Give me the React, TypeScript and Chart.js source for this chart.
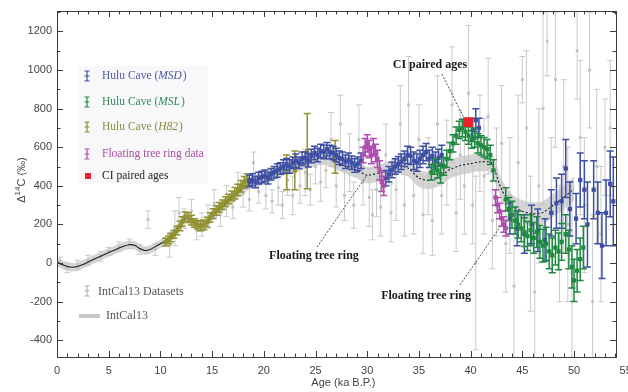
import React, { useEffect, useRef } from 'react';
import { Chart, registerables } from 'chart.js';
Chart.register(...registerables);

// ---------- axes ----------
const X_MIN = 0;
const X_MAX = 54.06;
const Y_MIN = -487;
const Y_MAX = 1306;
const xTickLabels = [0, 5, 10, 15, 20, 25, 30, 35, 40, 45, 50, 55];
const yTickLabels = [-400, -200, 0, 200, 400, 600, 800, 1000, 1200];

// ---------- IntCal13 curve ----------
const curveAge = [0, 0.5, 1, 1.5, 2, 2.5, 3, 3.5, 4, 4.5, 5, 5.5, 6, 6.5, 7, 7.5, 8, 8.5, 9, 9.5,
  10, 10.5, 11, 11.5, 12, 12.5, 13, 13.5, 14, 14.5, 15, 15.5, 16, 16.5, 17, 17.5, 18, 18.5, 19, 20,
  21, 22, 23, 24, 25, 26, 27, 28, 29, 30, 31, 32, 33, 34, 35, 36, 37, 38, 39, 40,
  41, 42, 43, 44, 45, 46, 47, 48, 49, 50];
const curveVal = [5, -8, -18, -22, -18, -8, 5, 18, 30, 42, 55, 65, 78, 88, 95, 92, 75, 65, 70, 85,
  100, 115, 140, 170, 200, 238, 218, 195, 188, 210, 245, 270, 295, 318, 340, 362, 390, 410, 420, 440,
  465, 490, 505, 525, 540, 548, 525, 500, 480, 455, 465, 480, 505, 490, 440, 428, 445, 485, 505, 515,
  525, 520, 380, 300, 268, 255, 262, 300, 340, 385];
const curveErr = [22, 22, 22, 22, 22, 22, 22, 22, 22, 22, 22, 22, 22, 22, 22, 22, 22, 22, 22, 22,
  22, 24, 25, 26, 28, 28, 28, 28, 28, 28, 28, 30, 30, 30, 30, 30, 30, 32, 32, 35,
  35, 35, 38, 38, 38, 40, 40, 40, 42, 42, 45, 45, 45, 45, 45, 45, 45, 48, 48, 48,
  50, 50, 55, 55, 58, 60, 60, 60, 62, 62];

// ---------- IntCal13 datasets (gray) ----------
const grayAge = [0.3, 1.0, 2.0, 3.0, 4.2, 5.0, 6.0, 7.0, 8.0, 8.8,
  9.5, 10.9, 11.4, 11.8, 12.3, 13.0, 13.5, 14.0, 14.6, 15.2,
  15.8, 16.4, 17.0, 17.5, 18.0, 18.6, 19.0, 19.5, 20.2, 20.8,
  21.4, 21.8, 22.3, 22.8, 23.5, 24.0, 24.5, 25.0, 25.5, 26.0,
  26.5, 27.0, 27.4, 27.8, 28.3, 28.7, 29.2, 29.6, 30.2, 30.5,
  30.9, 31.3, 31.8, 32.3, 32.8, 33.2, 33.6, 34.0, 34.5, 35.0,
  35.4, 35.9, 36.3, 36.8, 37.2, 37.7, 38.2, 38.6, 39.0, 39.4,
  39.8, 40.2, 40.5, 40.9, 41.3, 41.7, 42.1, 42.5, 43.0, 43.4,
  43.8, 44.2, 44.6, 45.0, 45.4, 45.8, 46.2, 46.6, 47.0, 47.4,
  47.8, 48.2, 48.6, 49.0, 49.4, 49.8, 50.3, 50.6, 51.0, 51.5,
  51.8, 52.2, 52.6, 53.0, 53.5];
const grayVal = [10, -25, -10, 15, 35, 60, 85, 100, 70, 225,
  70, 90, 180, 260, 230, 270, 170, 200, 240, 310,
  250, 320, 290, 410, 360, 330, 520, 370, 350, 320,
  390, 300, 430, 350, 400, 470, 380, 500, 420, 480,
  640, 400, 720, 350, 520, 300, 640, 420, 340, 250,
  380, 290, 560, 260, 380, 720, 300, 820, 350, 640,
  250, 450, 220, 720, 350, 520, 820, 260, 560, 400,
  880, 300, 0, 620, 450, 760, 220, 420, 620, 100,
  350, -120, 520, 950, 700, 100, -150, 400, 800, 1150,
  300, 950, 100, 500, 200, -50, 1100, 650, 300, 1000,
  -200, 500, 150, 600, 700];
const grayErr = [20, 25, 25, 25, 25, 20, 25, 25, 25, 45,
  30, 60, 90, 80, 50, 60, 50, 60, 60, 70,
  60, 80, 60, 60, 70, 60, 55, 60, 70, 60,
  90, 70, 80, 100, 90, 120, 80, 90, 100, 90,
  140, 110, 150, 130, 150, 120, 180, 120, 150, 130,
  140, 150, 160, 150, 160, 200, 160, 250, 200, 180,
  200, 200, 180, 250, 200, 220, 300, 200, 230, 250,
  350, 200, 450, 250, 300, 300, 250, 280, 300, 250,
  300, 400, 350, 120, 400, 350, 350, 400, 500, 180,
  350, 350, 300, 450, 400, 450, 250, 400, 350, 300,
  450, 400, 350, 250, 350];

// ---------- Hulu Cave (H82) ----------
const h82Age = [10.5, 10.8, 11.0, 11.3, 11.6, 11.9, 12.1, 12.4, 12.7, 13.0,
  13.3, 13.6, 13.9, 14.2, 14.5, 14.8, 15.1, 15.4, 15.7, 16.0,
  16.3, 16.6, 16.9, 17.2, 17.5, 17.8, 18.1, 18.4,
  22.2, 23.0, 24.2, 26.9];
const h82Val = [108, 120, 132, 148, 168, 192, 215, 240, 235, 222,
  208, 198, 192, 198, 212, 236, 256, 272, 288, 302,
  318, 332, 348, 362, 378, 398, 418, 432,
  470, 480, 580, 550];
const h82Err = [20, 20, 22, 20, 22, 25, 25, 25, 25, 25,
  22, 22, 25, 25, 25, 25, 25, 25, 25, 25,
  25, 25, 25, 30, 30, 30, 30, 30,
  90, 100, 195, 85];

// ---------- Hulu Cave (MSD) ----------
const msdAge = [18.6, 18.9, 19.2, 19.5, 19.8, 20.1, 20.4, 20.7, 21.0, 21.3,
  21.6, 21.9, 22.2, 22.5, 22.8, 23.1, 23.4, 23.7, 24.0, 24.3,
  24.6, 24.9, 25.2, 25.5, 25.8, 26.1, 26.4, 26.7, 27.0, 27.3,
  27.6, 27.9, 28.2, 28.5, 28.8, 29.1, 29.4, 31.8, 32.1, 32.4,
  32.7, 33.0, 33.3, 33.6, 33.9, 34.2, 34.5, 34.8, 35.1, 35.4,
  35.7, 36.0, 36.3, 36.6, 36.9, 37.2, 40.2, 40.5, 40.8,
  43.8, 44.5, 45.2, 45.9, 46.5, 47.2, 47.8, 48.3, 48.8, 49.2,
  49.6, 50.2, 50.6, 51.0, 51.3, 51.9, 52.3, 52.7, 53.1, 53.5, 53.8];
const msdVal = [425, 432, 420, 440, 446, 452, 440, 460, 470, 480,
  490, 500, 512, 500, 520, 530, 520, 540, 545, 532,
  555, 570, 560, 580, 575, 590, 575, 570, 560, 545,
  540, 525, 535, 520, 505, 515, 530, 440, 460, 482,
  500, 512, 525, 540, 560, 555, 530, 520, 540, 560,
  575, 540, 555, 530, 545, 560, 690, 740, 700,
  230, 180, 150, 200, 170, 120, 260, 310, 320, 490,
  280, 230, 430, 380, 200, 380, 260, 90, 260, 410, 320];
const msdErr = [30, 30, 30, 30, 30, 30, 30, 30, 30, 35,
  30, 35, 30, 35, 30, 35, 30, 35, 30, 35,
  35, 35, 35, 35, 35, 35, 35, 35, 35, 35,
  35, 35, 35, 35, 35, 35, 40, 40, 40, 40,
  40, 40, 40, 40, 45, 45, 45, 45, 45, 45,
  45, 45, 45, 45, 45, 50, 60, 60, 50,
  80, 90, 100, 100, 110, 110, 120, 130, 140, 150,
  140, 130, 140, 150, 220, 150, 160, 170, 170, 170, 230];

// ---------- Hulu Cave (MSL) ----------
const mslAge = [36.2, 36.5, 36.8, 37.1, 37.4, 37.7, 38.0, 38.3, 38.6, 38.9,
  39.2, 39.5, 39.8, 40.1, 40.4, 40.7, 41.0, 41.3, 41.6, 41.9,
  42.2, 43.4, 43.7, 44.0, 44.3, 44.6, 44.9, 45.2, 45.5, 45.8,
  46.1, 46.4, 46.7, 47.0, 47.3, 47.6, 47.9, 48.2, 48.5, 48.8,
  49.2, 49.5, 49.8, 50.0, 50.3, 50.6, 50.9];
const mslVal = [470, 500, 480, 460, 500, 540, 580, 620, 660, 690,
  700, 680, 660, 640, 650, 620, 610, 600, 590, 560,
  480, 330, 280, 250, 220, 200, 180, 160, 140, 170,
  130, 160, 110, 90, 100, 60, 40, 80, 60, 110,
  150, 70, -20, -90, -40, 20, 80];
const mslErr = [40, 40, 40, 45, 45, 45, 45, 45, 45, 45,
  45, 45, 45, 45, 50, 50, 50, 50, 50, 50,
  55, 60, 60, 70, 70, 70, 70, 75, 75, 80,
  80, 80, 85, 85, 85, 90, 90, 90, 95, 95,
  100, 100, 110, 110, 110, 110, 110];

// ---------- Floating tree ring data ----------
const treeAge = [29.6, 29.8, 30.0, 30.2, 30.4, 30.6, 30.8, 31.0, 31.2, 31.4, 31.6,
  42.4, 42.6, 42.8, 43.0, 43.2, 43.4];
const treeVal = [560, 600, 620, 590, 560, 600, 570, 540, 480, 420, 400,
  340, 300, 270, 230, 200, 180];
const treeErr = [40, 45, 45, 45, 45, 45, 45, 45, 50, 50, 50,
  40, 40, 40, 40, 40, 40];

// ---------- CI paired ages ----------
const ciAge = [39.75];
const ciVal = [730];

// ---------- text ----------
const legendItems = [
  { pre: 'Hulu Cave (', it: 'MSD', post: ')', color: '#3d4fa5', text: '#4e5ca8', kind: 'bar' },
  { pre: 'Hulu Cave (', it: 'MSL', post: ')', color: '#1e8a40', text: '#2f8c55', kind: 'bar' },
  { pre: 'Hulu Cave (', it: 'H82', post: ')', color: '#8f8f2a', text: '#8c8a40', kind: 'bar' },
  { pre: 'Floating tree ring data', it: '', post: '', color: '#b04cb0', text: '#a9509f', kind: 'bar' },
  { pre: 'CI paired ages', it: '', post: '', color: '#e8232a', text: '#222222', kind: 'square' },
];

const SERIF = '"Liberation Serif", "DejaVu Serif", "Times New Roman", serif';
const SANS = '"Liberation Sans", Arial, "DejaVu Sans", sans-serif';

const pts = (a: number[], v: number[]) => a.map((x, i) => ({ x, y: v[i] }));

const errorBarPlugin = {
  id: 'errorBars',
  beforeDatasetDraw(chart: any, args: any) {
    const ds = chart.data.datasets[args.index];
    if (!ds.errY) return;
    const { ctx, chartArea: ca } = chart;
    const xs = chart.scales.x, ys = chart.scales.y;
    ctx.save();
    ctx.beginPath();
    ctx.rect(ca.left, ca.top, ca.right - ca.left, ca.bottom - ca.top);
    ctx.clip();
    ctx.strokeStyle = ds.errColor;
    ctx.lineWidth = ds.errWidth;
    const cap = ds.capW;
    ds.data.forEach((p: any, i: number) => {
      const e = ds.errY[i];
      const px = xs.getPixelForValue(p.x);
      const py = ys.getPixelForValue(p.y);
      const y1 = ys.getPixelForValue(p.y + e);
      const y2 = ys.getPixelForValue(p.y - e);
      ctx.beginPath();
      ctx.moveTo(px, y1); ctx.lineTo(px, y2);
      ctx.moveTo(px - cap, y1); ctx.lineTo(px + cap, y1);
      ctx.moveTo(px - cap, y2); ctx.lineTo(px + cap, y2);
      if (ds.errX) {
        const xa = xs.getPixelForValue(p.x - ds.errX);
        const xb = xs.getPixelForValue(p.x + ds.errX);
        ctx.moveTo(xa, py); ctx.lineTo(xb, py);
      }
      ctx.stroke();
    });
    ctx.restore();
  },
};

function drawErrGlyph(ctx: any, x: number, y: number, color: string, h: number, w: number, lw: number) {
  ctx.save();
  ctx.strokeStyle = color;
  ctx.lineWidth = lw;
  ctx.beginPath();
  ctx.moveTo(x, y - h); ctx.lineTo(x, y + h);
  ctx.moveTo(x - w, y - h); ctx.lineTo(x + w, y - h);
  ctx.moveTo(x - w, y + h); ctx.lineTo(x + w, y + h);
  ctx.moveTo(x - w, y); ctx.lineTo(x + w, y);
  ctx.stroke();
  ctx.restore();
}

const framePlugin = {
  id: 'frame',
  beforeDatasetsDraw(chart: any) {
    const { ctx } = chart;
    ctx.save();
    ctx.fillStyle = 'rgba(242,242,246,0.5)';
    ctx.fillRect(78, 66, 130, 118);
    ctx.restore();
  },
  afterDraw(chart: any) {
    const { ctx, chartArea: ca } = chart;
    const xs = chart.scales.x, ys = chart.scales.y;
    ctx.save();
    // frame
    ctx.strokeStyle = '#3a3a3a';
    ctx.lineWidth = 1;
    ctx.strokeRect(Math.round(ca.left) + 0.5, Math.round(ca.top) + 0.5,
      Math.round(ca.right - ca.left), Math.round(ca.bottom - ca.top));
    // x ticks
    ctx.beginPath();
    for (let v = 1; v < X_MAX; v += 1) {
      const px = Math.round(xs.getPixelForValue(v)) + 0.5;
      const len = v % 5 === 0 ? 6 : 3.5;
      ctx.moveTo(px, ca.bottom); ctx.lineTo(px, ca.bottom - len);
      ctx.moveTo(px, ca.top); ctx.lineTo(px, ca.top + len);
    }
    for (let v = -400; v <= 1300; v += 100) {
      const py = Math.round(ys.getPixelForValue(v)) + 0.5;
      const len = v % 200 === 0 ? 6 : 3.5;
      ctx.moveTo(ca.left, py); ctx.lineTo(ca.left + len, py);
      ctx.moveTo(ca.right, py); ctx.lineTo(ca.right - len, py);
    }
    ctx.stroke();
    // tick labels
    ctx.fillStyle = '#444';
    ctx.font = `11px ${SANS}`;
    ctx.textAlign = 'center';
    ctx.textBaseline = 'top';
    xTickLabels.forEach((v) => {
      ctx.fillText(String(v), xs.getPixelForValue(v), ca.bottom + 8);
    });
    ctx.textAlign = 'right';
    ctx.textBaseline = 'middle';
    yTickLabels.forEach((v) => {
      ctx.fillText(String(v), ca.left - 5, ys.getPixelForValue(v));
    });
    // axis titles
    ctx.textAlign = 'center';
    ctx.textBaseline = 'middle';
    ctx.fillText('Age (ka B.P.)', (xs.getPixelForValue(0) + xs.getPixelForValue(55)) / 2 + 2, 383);
    ctx.save();
    ctx.translate(22, (ca.top + ca.bottom) / 2 - 4);
    ctx.rotate(-Math.PI / 2);
    const f1 = `11px ${SANS}`, f2 = `8px ${SANS}`;
    ctx.font = f1; const wD = ctx.measureText('Δ').width;
    ctx.font = f2; const w14 = ctx.measureText('14').width;
    ctx.font = f1; const wC = ctx.measureText('C (‰)').width;
    let sx = -(wD + w14 + wC) / 2;
    ctx.textAlign = 'left';
    ctx.font = f1; ctx.fillText('Δ', sx, 0); sx += wD;
    ctx.font = f2; ctx.fillText('14', sx, -4); sx += w14;
    ctx.font = f1; ctx.fillText('C (‰)', sx, 0);
    ctx.restore();

    // top-left legend
    ctx.textAlign = 'left';
    ctx.textBaseline = 'middle';
    legendItems.forEach((it, i) => {
      const y = [76, 102, 127, 154, 176][i];
      if (it.kind === 'bar') drawErrGlyph(ctx, 87, y, it.color, 5, 2.5, 1.2);
      else { ctx.fillStyle = it.color; ctx.fillRect(85, y - 3, 6, 6); }
      ctx.fillStyle = it.text;
      let tx = 102;
      ctx.font = `11.5px ${SERIF}`;
      ctx.fillText(it.pre, tx, y); tx += ctx.measureText(it.pre).width;
      if (it.it) {
        ctx.font = `italic 11.5px ${SERIF}`;
        ctx.fillText(it.it, tx, y); tx += ctx.measureText(it.it).width + 1;
        ctx.font = `11.5px ${SERIF}`;
        ctx.fillText(it.post, tx, y);
      }
    });
    // bottom-left legend
    drawErrGlyph(ctx, 87, 291, '#aaaaaa', 5, 2.5, 1);
    ctx.fillStyle = '#555';
    ctx.font = `12px ${SERIF}`;
    ctx.fillText('IntCal13 Datasets', 98, 292);
    ctx.fillStyle = '#c8c8c8';
    ctx.fillRect(79, 314, 21, 4);
    ctx.fillStyle = '#555';
    ctx.fillText('IntCal13', 106, 316);

    // annotations (anchored in data units)
    const P = (a: number, v: number) => [xs.getPixelForValue(a), ys.getPixelForValue(v)];
    ctx.fillStyle = '#1a1a1a';
    ctx.font = `bold 12px ${SERIF}`;
    ctx.textAlign = 'center';
    const notes = [
      { t: 'CI paired ages', at: [36.07, 1026], from: [37.23, 979], to: [39.35, 752] },
      { t: 'Floating tree ring', at: [24.85, 36], from: [25.15, 83], to: [29.98, 456] },
      { t: 'Floating tree ring', at: [35.69, -171], from: [38.97, -114], to: [42.84, 186] },
    ];
    ctx.strokeStyle = '#222';
    ctx.lineWidth = 0.8;
    ctx.setLineDash([2, 1.5]);
    notes.forEach((n) => {
      const [tx, ty] = P(n.at[0], n.at[1]);
      ctx.fillText(n.t, tx, ty);
      const [ax, ay] = P(n.from[0], n.from[1]);
      const [bx, by] = P(n.to[0], n.to[1]);
      ctx.beginPath(); ctx.moveTo(ax, ay); ctx.lineTo(bx, by); ctx.stroke();
    });
    ctx.setLineDash([]);
    ctx.restore();
  },
};

function errSet(label: string, a: number[], v: number[], e: number[], color: string, order: number, opts: any = {}) {
  return {
    type: 'scatter',
    label,
    data: pts(a, v),
    errY: e,
    errColor: opts.errColor || color,
    errWidth: opts.errWidth || 1.5,
    capW: opts.capW || 3.5,
    errX: opts.errX || 0,
    pointStyle: 'rect',
    pointRadius: opts.r || 3,
    backgroundColor: opts.fill || color,
    borderColor: opts.fill || color,
    borderWidth: 0,
    order,
  };
}

export default function App() {
  const ref = useRef<HTMLCanvasElement>(null);
  useEffect(() => {
    document.body.style.margin = '0';
    const upper = curveAge.map((x, i) => ({ x, y: curveVal[i] + curveErr[i] }));
    const lower = curveAge.map((x, i) => ({ x, y: curveVal[i] - curveErr[i] }));
    const chart = new Chart(ref.current as HTMLCanvasElement, {
      type: 'scatter',
      data: {
        datasets: [
          errSet('IntCal13 Datasets', grayAge, grayVal, grayErr, '#c9c9c9', 10,
            { errWidth: 1, capW: 3, r: 2, fill: '#c0c0c0' }),
          {
            type: 'line', label: 'band-upper', data: upper, borderWidth: 0, pointRadius: 0,
            borderColor: 'rgba(0,0,0,0)', fill: false, order: 9, tension: 0.3,
          },
          {
            type: 'line', label: 'IntCal13', data: lower, borderWidth: 0, pointRadius: 0,
            borderColor: 'rgba(0,0,0,0)', backgroundColor: 'rgba(195,195,195,0.7)', fill: '-1', order: 9, tension: 0.3,
          },
          {
            type: 'line', label: 'IntCal13 mean', data: pts(curveAge, curveVal), borderWidth: 1.1,
            borderColor: '#1a1a1a', pointRadius: 0, fill: false, order: 8, tension: 0.2,
            segment: { borderDash: (c: any) => (c.p0.parsed.x >= 19 ? [2, 2] : undefined) },
          },
          errSet('Hulu Cave (H82)', h82Age, h82Val, h82Err, '#929230', 5, { errX: 0.15 }),
          errSet('Hulu Cave (MSD)', msdAge, msdVal, msdErr, '#3d4fa5', 4, { errX: 0.15 }),
          errSet('Hulu Cave (MSL)', mslAge, mslVal, mslErr, '#1e8a40', 3, { errX: 0.15 }),
          errSet('Floating tree ring data', treeAge, treeVal, treeErr, '#b04cb0', 2, { errX: 0.1 }),
          {
            type: 'scatter', label: 'CI paired ages', data: pts(ciAge, ciVal), pointStyle: 'rect',
            pointRadius: 7, backgroundColor: '#e8232a', borderColor: '#e8232a', borderWidth: 0, order: 1,
          },
        ] as any,
      },
      options: {
        responsive: false,
        animation: false,
        layout: { padding: { left: 57, right: 12, top: 11, bottom: 35 } },
        plugins: { legend: { display: false }, tooltip: { enabled: false } },
        scales: {
          x: { type: 'linear', min: X_MIN, max: X_MAX, display: false },
          y: { type: 'linear', min: Y_MIN, max: Y_MAX, display: false },
        },
      },
      plugins: [errorBarPlugin, framePlugin],
    } as any);
    return () => chart.destroy();
  }, []);
  return (
    <div style={{ width: 628, height: 392, background: '#fff' }}>
      <canvas ref={ref} width={628} height={392} style={{ display: 'block' }} />
    </div>
  );
}
